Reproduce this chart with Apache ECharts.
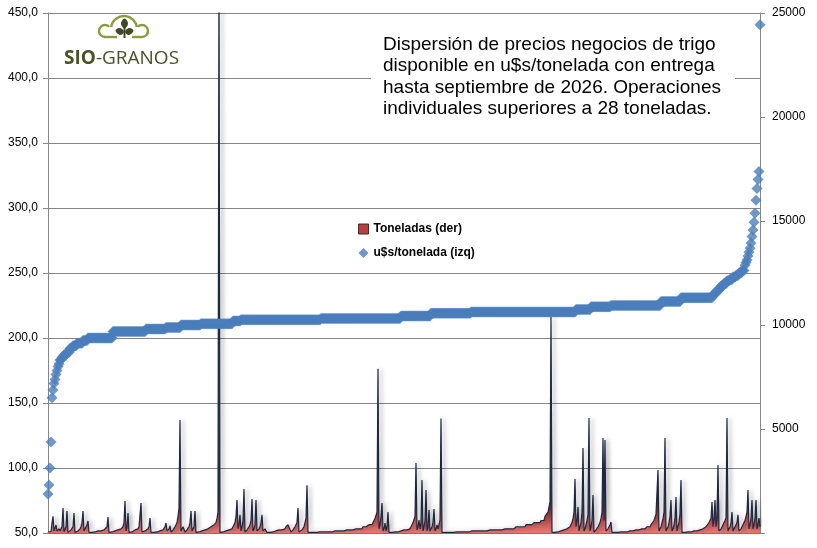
<!DOCTYPE html>
<html>
<head>
<meta charset="utf-8">
<script src="https://cdn.jsdelivr.net/npm/echarts@6/dist/echarts.min.js"></script>
<style>
  html, body { margin: 0; padding: 0; background: #fff; }
  #chart { width: 817px; height: 548px; }
</style>
</head>
<body>
<div id="chart"></div>
<script>
// precios u$s/tonelada ordenados de menor a mayor: valor suelto o [valor, repeticiones]
const precioTramos = [
  80, 87, 100, 120, 154, 160, 165, 168, 172, 175, 178, 180,
  [183, 2], [185, 2], [187, 3], [189, 3], [192, 3], [194, 4], [196, 6], [198, 5],
  [200, 25], [205, 33], [207, 20], [208, 15], [210, 20], [211, 32], [213, 8],
  [214, 80], [215, 80], [217, 30], [219, 40], [220, 105], [222, 15], [224, 20],
  [225, 50], [228, 20], [231, 32],
  [233, 2], [235, 2], [236, 2], [238, 2], [240, 3], [242, 3], [244, 3], [245, 3],
  [247, 3], [248, 3], [250, 3], [252, 3],
  256, 258, 260, 263, 266, 269, 273, 278, 283, 289, 296, 306, 315, 322, 328, 441
];

// toneladas de cada operacion, mismo orden
const toneladaTramos = [
  60, 100, 150, 60, 480, 800, 100, 150, 385, 100, 60, 200,
  100, 200, 300, 1200,
  60, 150, 300, 1060,
  30, 50, 100, 150, 200, 300, 960,
  30, 50, 100, 100, 150, 200, 300, 500, 1060,
  100, 200, 300, 400, 580,
  [30, 5], [50, 4], [100, 4], [150, 3], [200, 2], 300, 770,
  [30, 3], [50, 3], [100, 3], [150, 3], [200, 2], 300, 500, 1540,
  100, 300, 960,
  [30, 2], [50, 2], [100, 2], [150, 2], [200, 2], [300, 2], 1440,
  [50, 2], [100, 2], [150, 2], 200, 300, 720,
  [30, 4], [50, 4], [100, 3], [150, 2], 200, 300, 480,
  100, 150, 200, 340,
  50, 100, 150, 200, 300, 400, 500, 800, 1200, 5430,
  100, 200, 300, 385,
  50, 100, 150, 200, 300, 500, 1060,
  100, 200, 300, 1060,
  [30, 3], [50, 3], [100, 3], [150, 3], [200, 3], [300, 3], [400, 2], 500, 700, 1000, 27000,
  [30, 3], [50, 3], [100, 3], [150, 2], [200, 2], [300, 2], 500, 800, 1590,
  200, 400, 870,
  100, 300, 600, 2110,
  50, 100, 150, 200, 300, 400, 600, 1630,
  100, 200, 400, 1590,
  100, 150, 200, 300, 500, 870,
  100, 150, 200, 290,
  [30, 4], [50, 4], [100, 4], [150, 4], [200, 3], [300, 2], [400, 2], 480,
  50, 100, 150, 200, 300, 400, 500, 1200,
  50, 100, 100, 150, 200, 300, 500, 700, 2300,
  [30, 12], [50, 15], [100, 12], [150, 8], [200, 8], [300, 6], [400, 4], [500, 2], [700, 2], 1000, 7900,
  200, 400, 800, 1440,
  100, 200, 480,
  100, 300, 1010,
  [30, 5], [50, 5], [100, 5], [150, 4], [200, 3], [300, 2], [500, 2], 800, 3370,
  150, 300, 620,
  200, 500, 2550,
  100, 300, 600, 2070,
  100, 300, 1110,
  100, 200, 300, 500, 1150,
  100, 200, 385,
  200, 400, 620, 5500,
  [30, 15], [50, 14], [100, 18], [150, 15], [200, 12], [300, 10], [400, 8], [500, 7], [600, 4], [800, 3], [1000, 2], 1500, 10400,
  [30, 4], [50, 4], [100, 4], [150, 3], [200, 3], [300, 2], 500, 700, 1000, 2600,
  300, 600, 1250,
  100, 300, 500, 1000, 4090,
  100, 200, 400, 600, 900, 5530,
  100, 300, 600, 1830,
  50, 100, 150, 200, 300, 400, 500, 700, 1000, 4570,
  600, 4470,
  100, 150, 200, 300, 400, 530,
  [30, 8], [50, 8], [100, 8], [150, 6], [200, 5], [300, 4], [400, 3], [600, 2], [900, 2], 3030,
  100, 200, 300, 500, 700, 1000, 4570,
  100, 200, 300, 500, 800, 1590,
  100, 200, 400, 700, 1730,
  100, 300, 500, 900, 2550,
  [30, 6], [50, 6], [100, 5], [150, 4], [200, 3], [300, 3], [500, 2], 700, 1490,
  300, 700, 1590,
  300, 800, 3270,
  100, 150, 200, 300, 400, 500, 600, 720, 5530,
  100, 200, 300, 500, 1010,
  100, 200, 300, 400, 500, 870,
  100, 150, 200, 300, 400, 500, 600, 800, 1000, 2070,
  200, 400, 700, 1590,
  200, 400, 700, 1590,
  200, 400, 720,
  300
];

const ticksPrecio = [50, 100, 150, 200, 250, 300, 350, 400, 450];
const ticksToneladas = [0, 5000, 10000, 15000, 20000, 25000];

const titulo = [
  'Dispersión de precios negocios de trigo',
  'disponible en u$s/tonelada con entrega',
  'hasta septiembre de 2026. Operaciones',
  'individuales superiores a 28 toneladas.'
];

function expandir(tramos) {
  const out = [];
  tramos.forEach(t => {
    if (Array.isArray(t)) {
      for (let i = 0; i < t[1]; i++) out.push(t[0]);
    } else {
      out.push(t);
    }
  });
  return out;
}

const precios = expandir(precioTramos);
const toneladas = expandir(toneladaTramos);
const operaciones = precios.map((p, i) => i + 1);

const chart = echarts.init(document.getElementById('chart'));

// logo SIO-GRANOS (nube + planta)
const verdeNube = '#8c9a3b';
const verdeOscuro = '#3e4a22';
const logo = [
  { type: 'arc', z: 11, shape: { cx: 105, cy: 31, r: 6, startAngle: Math.PI * 0.5, endAngle: Math.PI * 1.75, clockwise: true },
    style: { fill: 'none', stroke: verdeNube, lineWidth: 2.4 } },
  { type: 'arc', z: 11, shape: { cx: 124, cy: 29, r: 13, startAngle: Math.PI * 1.05, endAngle: Math.PI * 1.95, clockwise: true },
    style: { fill: 'none', stroke: verdeNube, lineWidth: 2.4 } },
  { type: 'arc', z: 11, shape: { cx: 142, cy: 31, r: 6, startAngle: Math.PI * 1.25, endAngle: Math.PI * 2.5, clockwise: true },
    style: { fill: 'none', stroke: verdeNube, lineWidth: 2.4 } },
  { type: 'line', z: 11, shape: { x1: 104, y1: 37, x2: 117, y2: 37 }, style: { stroke: verdeNube, lineWidth: 2.4 } },
  { type: 'line', z: 11, shape: { x1: 132, y1: 37, x2: 142, y2: 37 }, style: { stroke: verdeNube, lineWidth: 2.4 } },
  { type: 'line', z: 11, shape: { x1: 124.5, y1: 38, x2: 124.5, y2: 26 }, style: { stroke: verdeOscuro, lineWidth: 2 } },
  { type: 'polygon', z: 11, shape: { points: [[124, 32], [120, 28], [115.5, 30.5], [120, 35]], smooth: 0.4 }, style: { fill: verdeOscuro } },
  { type: 'polygon', z: 11, shape: { points: [[125, 32], [129, 28], [133.5, 30.5], [129, 35]], smooth: 0.4 }, style: { fill: verdeOscuro } },
  { type: 'polygon', z: 11, shape: { points: [[124.5, 28.5], [121, 23.5], [124.5, 18.5], [128, 23.5]], smooth: 0.4 }, style: { fill: verdeOscuro } },
  {
    type: 'text', z: 11, left: 64, top: 49,
    style: {
      text: '{b|SIO}{r|-GRANOS}',
      rich: {
        b: { fontFamily: 'Open Sans', fontWeight: 'bold', fontSize: 19, fill: '#4a5226' },
        r: { fontFamily: 'Open Sans', fontSize: 19, fill: '#4a5226' }
      }
    }
  }
];

const option = {
  backgroundColor: '#fff',
  animation: false,
  grid: { left: 48, right: 57, top: 13, bottom: 15, outerBoundsMode: 'none' },
  legend: {
    orient: 'vertical',
    left: 353,
    top: 218,
    itemGap: 12,
    itemWidth: 10,
    itemHeight: 10,
    textStyle: { fontFamily: 'Liberation Sans', fontWeight: 'bold', fontSize: 12, color: '#000' },
    data: [
      { name: 'Toneladas (der)', icon: 'rect', itemStyle: { color: '#b8403e', borderColor: '#3c2c30', borderWidth: 1 } },
      { name: 'u$s/tonelada (izq)', icon: 'diamond', itemStyle: { color: '#4b7dbf' } }
    ]
  },
  xAxis: {
    type: 'category',
    data: operaciones,
    boundaryGap: false,
    axisLine: { show: true, lineStyle: { color: '#5d79ab', width: 1.5 } },
    axisTick: { show: false },
    axisLabel: { show: false },
    splitLine: { show: false }
  },
  yAxis: [
    {
      type: 'value',
      min: ticksPrecio[0],
      max: ticksPrecio[ticksPrecio.length - 1],
      interval: 50,
      axisLine: { show: true, lineStyle: { color: '#868686' } },
      axisTick: { show: true, inside: false, length: 5, lineStyle: { color: '#868686' } },
      axisLabel: {
        margin: 10,
        fontFamily: 'Liberation Sans',
        fontSize: 12,
        color: '#000',
        formatter: v => v.toFixed(1).replace('.', ',')
      },
      splitLine: { show: true, lineStyle: { color: '#868686', width: 1 } }
    },
    {
      type: 'value',
      position: 'right',
      min: ticksToneladas[0],
      max: ticksToneladas[ticksToneladas.length - 1],
      interval: 5000,
      axisLine: { show: true, lineStyle: { color: '#868686' } },
      axisTick: { show: true, inside: false, length: 5, lineStyle: { color: '#868686' } },
      axisLabel: {
        margin: 12,
        fontFamily: 'Liberation Sans',
        fontSize: 12,
        color: '#000',
        formatter: v => (v === 0 ? '' : String(v))
      },
      splitLine: { show: false }
    }
  ],
  series: [
    {
      name: 'Toneladas (der)',
      type: 'line',
      yAxisIndex: 1,
      data: toneladas,
      symbol: 'none',
      clip: true,
      z: 2,
      lineStyle: {
        color: '#1e2840',
        width: 1.2,
        shadowColor: 'rgba(0,0,0,0.35)',
        shadowBlur: 4,
        shadowOffsetX: 3
      },
      areaStyle: {
        opacity: 1,
        color: new echarts.graphic.LinearGradient(0, 0, 0, 1, [
          { offset: 0, color: '#10162a' },
          { offset: 0.93, color: '#222d48' },
          { offset: 0.957, color: '#6e2e38' },
          { offset: 0.978, color: '#c4504e' },
          { offset: 1, color: '#e57a74' }
        ])
      }
    },
    {
      name: 'u$s/tonelada (izq)',
      type: 'scatter',
      yAxisIndex: 0,
      data: precios,
      symbol: 'diamond',
      symbolSize: 11,
      z: 3,
      itemStyle: { color: '#4a7ebb' }
    }
  ],
  graphic: [
    {
      type: 'rect',
      z: 10,
      shape: { x: 371, y: 22, width: 364, height: 106 },
      style: { fill: '#fff' }
    },
    {
      type: 'text',
      z: 11,
      left: 383,
      top: 34,
      style: {
        text: titulo.join('\n'),
        font: '19px "Liberation Sans"',
        lineHeight: 21.5,
        fill: '#000'
      }
    }
  ].concat(logo)
};

chart.setOption(option);
</script>
</body>
</html>
